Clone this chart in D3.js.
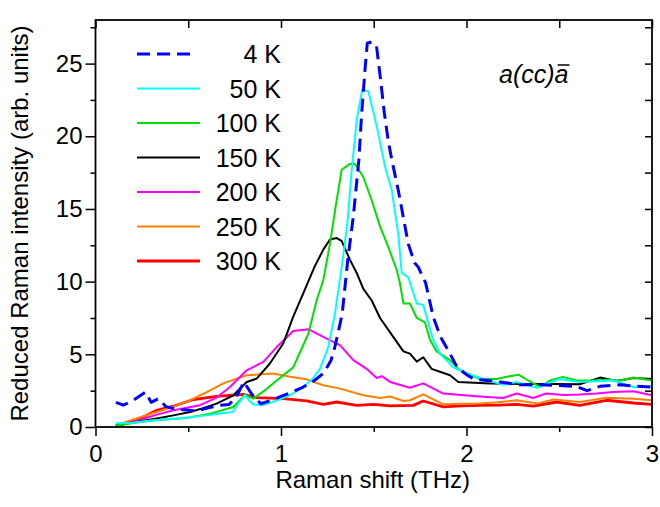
<!DOCTYPE html>
<html>
<head>
<meta charset="utf-8">
<script src="https://cdn.jsdelivr.net/npm/d3@7"></script>
<style>
  body { margin: 0; background: #fff; }
  svg { display: block; font-family: Arial, "Liberation Sans", sans-serif; }
</style>
</head>
<body>
<svg id="chart" width="660" height="507"></svg>
<script>
"use strict";

// reduced raman intensity, [shift (THz), intensity]
let data4K = [[0.11,1.7],[0.15,1.5],[0.2,1.8],[0.27,2.4],[0.3,1.7],[0.34,1.95],[0.38,1.4],[0.43,1.24],[0.54,1.1],[0.62,1.35],[0.67,1.5],[0.72,1.55],[0.76,2.1],[0.8,3.1],[0.84,2.3],[0.89,1.6],[0.95,1.85],[1.0,2.1],[1.06,2.4],[1.12,2.75],[1.18,3.2],[1.23,3.7],[1.27,4.6],[1.29,5.5],[1.31,6.6],[1.33,7.8],[1.36,11.5],[1.39,14.5],[1.42,18.4],[1.435,21.6],[1.453,24.6],[1.465,26.4],[1.49,26.5],[1.515,26.2],[1.535,24.1],[1.557,21.6],[1.578,19.7],[1.597,18.4],[1.632,16.3],[1.686,12.6],[1.72,11.3],[1.74,11.0],[1.78,9.9],[1.82,7.6],[1.86,6.2],[1.9,5.3],[1.95,4.1],[2.0,3.6],[2.04,3.3],[2.18,3.1],[2.29,2.9],[2.4,2.9],[2.5,2.85],[2.59,2.8],[2.65,2.5],[2.72,2.8],[2.83,2.9],[2.92,2.8],[3.0,2.75]];
let data50K = [[0.11,0.25],[0.2,0.3],[0.3,0.45],[0.4,0.55],[0.5,0.65],[0.6,0.8],[0.68,0.95],[0.74,1.03],[0.77,1.6],[0.806,2.2],[0.83,1.8],[0.85,1.56],[0.9,1.49],[0.98,1.84],[1.05,2.2],[1.12,2.75],[1.17,3.3],[1.21,4.0],[1.255,5.5],[1.291,7.8],[1.31,9.5],[1.336,11.8],[1.36,14.3],[1.38,17.5],[1.408,21.1],[1.438,23.2],[1.471,23.1],[1.516,20.7],[1.561,17.9],[1.597,16.3],[1.632,13.3],[1.651,10.6],[1.686,10.3],[1.732,8.5],[1.767,8.4],[1.82,6.0],[1.857,5.05],[1.929,4.1],[2.0,3.7],[2.09,3.3],[2.198,2.9],[2.27,3.1],[2.38,2.7],[2.5,3.3],[2.61,3.1],[2.7,3.15],[2.79,3.2],[2.9,2.75],[3.0,2.8]];
let data100K = [[0.11,0.1],[0.24,0.35],[0.35,0.5],[0.49,0.62],[0.62,0.92],[0.743,1.38],[0.806,2.2],[0.851,1.95],[0.91,2.5],[0.977,3.2],[1.066,4.1],[1.147,6.4],[1.192,8.7],[1.228,10.1],[1.264,12.6],[1.295,15.2],[1.327,17.7],[1.372,18.1],[1.399,18.1],[1.444,17.2],[1.489,15.6],[1.534,13.8],[1.578,12.4],[1.624,10.8],[1.641,9.9],[1.66,8.5],[1.695,8.5],[1.732,7.5],[1.776,7.2],[1.803,6.0],[1.839,5.2],[1.911,4.6],[1.956,4.0],[2.0,3.7],[2.073,3.3],[2.163,3.3],[2.217,3.45],[2.28,3.6],[2.333,3.2],[2.396,2.75],[2.45,3.2],[2.52,3.45],[2.594,3.2],[2.68,3.2],[2.755,3.25],[2.83,3.2],[2.9,3.4],[3.0,3.2]];
let data150K = [[0.11,0.1],[0.2,0.3],[0.33,0.58],[0.42,0.8],[0.51,1.03],[0.58,1.3],[0.653,1.61],[0.743,2.18],[0.815,3.1],[0.869,3.33],[0.94,4.37],[1.012,5.74],[1.066,7.6],[1.12,9.2],[1.18,11.0],[1.228,12.2],[1.264,12.9],[1.3,13.0],[1.327,12.8],[1.372,11.5],[1.408,10.6],[1.444,9.5],[1.489,8.7],[1.534,7.5],[1.605,6.2],[1.66,5.2],[1.695,5.05],[1.732,4.5],[1.767,4.8],[1.812,4.0],[1.857,3.8],[1.911,3.56],[1.956,3.1],[2.127,3.0],[2.3,2.95],[2.45,2.95],[2.61,2.94],[2.72,3.4],[2.81,3.17],[2.9,3.37],[3.0,3.3]];
let data200K = [[0.11,0.1],[0.24,0.46],[0.33,0.85],[0.42,1.15],[0.563,1.5],[0.65,2.0],[0.725,2.75],[0.815,3.9],[0.905,4.48],[0.977,5.5],[1.066,6.6],[1.147,6.73],[1.228,6.2],[1.318,5.63],[1.39,4.6],[1.462,4.0],[1.516,3.37],[1.543,3.5],[1.588,3.1],[1.695,2.7],[1.767,3.0],[1.875,2.3],[1.97,2.2],[2.073,2.1],[2.198,2.0],[2.27,2.3],[2.36,2.0],[2.43,2.3],[2.52,2.2],[2.61,2.23],[2.7,2.3],[2.79,2.4],[2.9,2.46],[3.0,2.18]];
let data250K = [[0.11,0.1],[0.2,0.5],[0.33,1.03],[0.42,1.4],[0.51,1.84],[0.6,2.4],[0.689,3.0],[0.815,3.56],[0.958,3.68],[1.049,3.45],[1.138,3.28],[1.228,2.87],[1.318,2.64],[1.444,2.18],[1.534,2.0],[1.588,2.1],[1.66,1.79],[1.695,1.84],[1.767,2.25],[1.875,1.56],[1.97,1.6],[2.073,1.61],[2.17,1.7],[2.27,1.84],[2.38,1.61],[2.47,1.89],[2.61,1.72],[2.755,2.02],[2.9,1.95],[3.0,1.84]];
let data300K = [[0.11,0.05],[0.18,0.3],[0.258,0.69],[0.33,1.15],[0.42,1.43],[0.527,1.89],[0.653,2.1],[0.797,2.25],[0.869,2.02],[1.012,1.95],[1.138,1.79],[1.228,1.56],[1.3,1.72],[1.408,1.49],[1.498,1.56],[1.588,1.45],[1.713,1.49],[1.767,1.79],[1.875,1.38],[1.97,1.45],[2.073,1.49],[2.17,1.5],[2.27,1.56],[2.36,1.43],[2.486,1.72],[2.61,1.49],[2.755,1.84],[2.9,1.65],[3.0,1.56]];

let seriesLabels = ["4 K", "50 K", "100 K", "150 K", "200 K", "250 K", "300 K"];
let xTicks = [0, 1, 2, 3];
let xMinorTicks = [0.5, 1.5, 2.5];
let yTicks = [0, 5, 10, 15, 20, 25];
let yMinorTicks = [2.5, 7.5, 12.5, 17.5, 22.5, 27.5];

// drawing style for each series (same order as labels)
let series = [
  { label: seriesLabels[0], values: data4K,   color: "#0000ff", width: 3,   dash: "13,7" },
  { label: seriesLabels[1], values: data50K,  color: "#00ffff", width: 2,   dash: null },
  { label: seriesLabels[2], values: data100K, color: "#00e000", width: 2,   dash: null },
  { label: seriesLabels[3], values: data150K, color: "#000000", width: 2,   dash: null },
  { label: seriesLabels[4], values: data200K, color: "#ff00ff", width: 2,   dash: null },
  { label: seriesLabels[5], values: data250K, color: "#ff8000", width: 2,   dash: null },
  { label: seriesLabels[6], values: data300K, color: "#ff0000", width: 2.8, dash: null }
];

let margin = { top: 20, right: 8, bottom: 80, left: 95.5 };
let W = 660, H = 507;
let plotW = W - margin.left - margin.right;
let plotH = H - margin.top - margin.bottom;

let svg = d3.select("#chart");
let g = svg.append("g").attr("transform", `translate(${margin.left},${margin.top})`);

let x = d3.scaleLinear().domain([0, 3]).range([0, plotW]);
let y = d3.scaleLinear().domain([0, 28]).range([plotH, 0]);

// curves, drawn low temperature first
let line = d3.line().x(d => x(d[0])).y(d => y(d[1]));
g.append("g").selectAll("path").data(series.slice().reverse()).enter()
  .append("path")
  .attr("d", d => line(d.values))
  .attr("fill", "none")
  .attr("stroke", d => d.color)
  .attr("stroke-width", d => d.width)
  .attr("stroke-dasharray", d => d.dash)
  .attr("stroke-linejoin", "round");

// axes: outward ticks left/bottom, inward ticks top/right
function styleAxis(sel) {
  sel.select(".domain").remove();
  sel.selectAll(".tick line").attr("stroke", "#000").attr("stroke-width", 1.5);
  sel.selectAll(".tick text").attr("fill", "#000").style("font-size", "24px");
}

g.append("g").attr("transform", `translate(0,${plotH})`)
  .call(d3.axisBottom(x).tickValues(xTicks).tickSize(9).tickPadding(9).tickFormat(d3.format("d")))
  .call(styleAxis);
g.append("g").attr("transform", `translate(0,${plotH})`)
  .call(d3.axisBottom(x).tickValues(xMinorTicks).tickSize(5).tickFormat(""))
  .call(styleAxis);
g.append("g")
  .call(d3.axisLeft(y).tickValues(yTicks).tickSize(10).tickPadding(3).tickFormat(d3.format("d")))
  .call(styleAxis);
g.append("g")
  .call(d3.axisLeft(y).tickValues(yMinorTicks.filter(v => v < 28)).tickSize(5).tickFormat(""))
  .call(styleAxis);
g.append("g")
  .call(d3.axisTop(x).tickValues(xTicks.concat(xMinorTicks)).tickSize(-8).tickFormat(""))
  .call(styleAxis);
g.append("g").attr("transform", `translate(${plotW},0)`)
  .call(d3.axisRight(y).tickValues(yTicks.concat(yMinorTicks.filter(v => v < 28))).tickSize(-7).tickFormat(""))
  .call(styleAxis);

g.append("rect")
  .attr("width", plotW).attr("height", plotH)
  .attr("fill", "none").attr("stroke", "#000").attr("stroke-width", 1.8);

// axis titles
svg.append("text")
  .attr("x", margin.left + plotW / 2 - 1).attr("y", 488)
  .attr("text-anchor", "middle").style("font-size", "24px")
  .text("Raman shift (THz)");
svg.append("text")
  .attr("transform", `translate(28,${margin.top + plotH / 2}) rotate(-90)`)
  .attr("text-anchor", "middle").style("font-size", "24px")
  .text("Reduced Raman intensity (arb. units)");

// legend
let legend = svg.append("g").selectAll("g").data(series).enter()
  .append("g")
  .attr("transform", (d, i) => `translate(0,${54 + i * 34.5})`);
legend.append("line")
  .attr("x1", 137).attr("x2", d => d.dash ? 190 : 200)
  .attr("stroke", d => d.color)
  .attr("stroke-width", d => d.width)
  .attr("stroke-dasharray", d => d.dash);
legend.append("text")
  .attr("x", 281).attr("y", 9)
  .attr("text-anchor", "end").style("font-size", "25px")
  .text(d => d.label);

// scattering geometry note, a(cc)a-bar
let note = svg.append("g").style("font-size", "25px").style("font-style", "italic");
let noteText = note.append("text").attr("x", 499).attr("y", 83).text("a(cc)");
let tw = noteText.node().getComputedTextLength();
let lastA = note.append("text").attr("x", 499 + tw).attr("y", 83).text("a");
let aw = lastA.node().getComputedTextLength();
note.append("line")
  .attr("x1", 499 + tw + 3).attr("x2", 499 + tw + aw + 1)
  .attr("y1", 65).attr("y2", 65)
  .attr("stroke", "#000").attr("stroke-width", 1.5);
</script>
</body>
</html>
